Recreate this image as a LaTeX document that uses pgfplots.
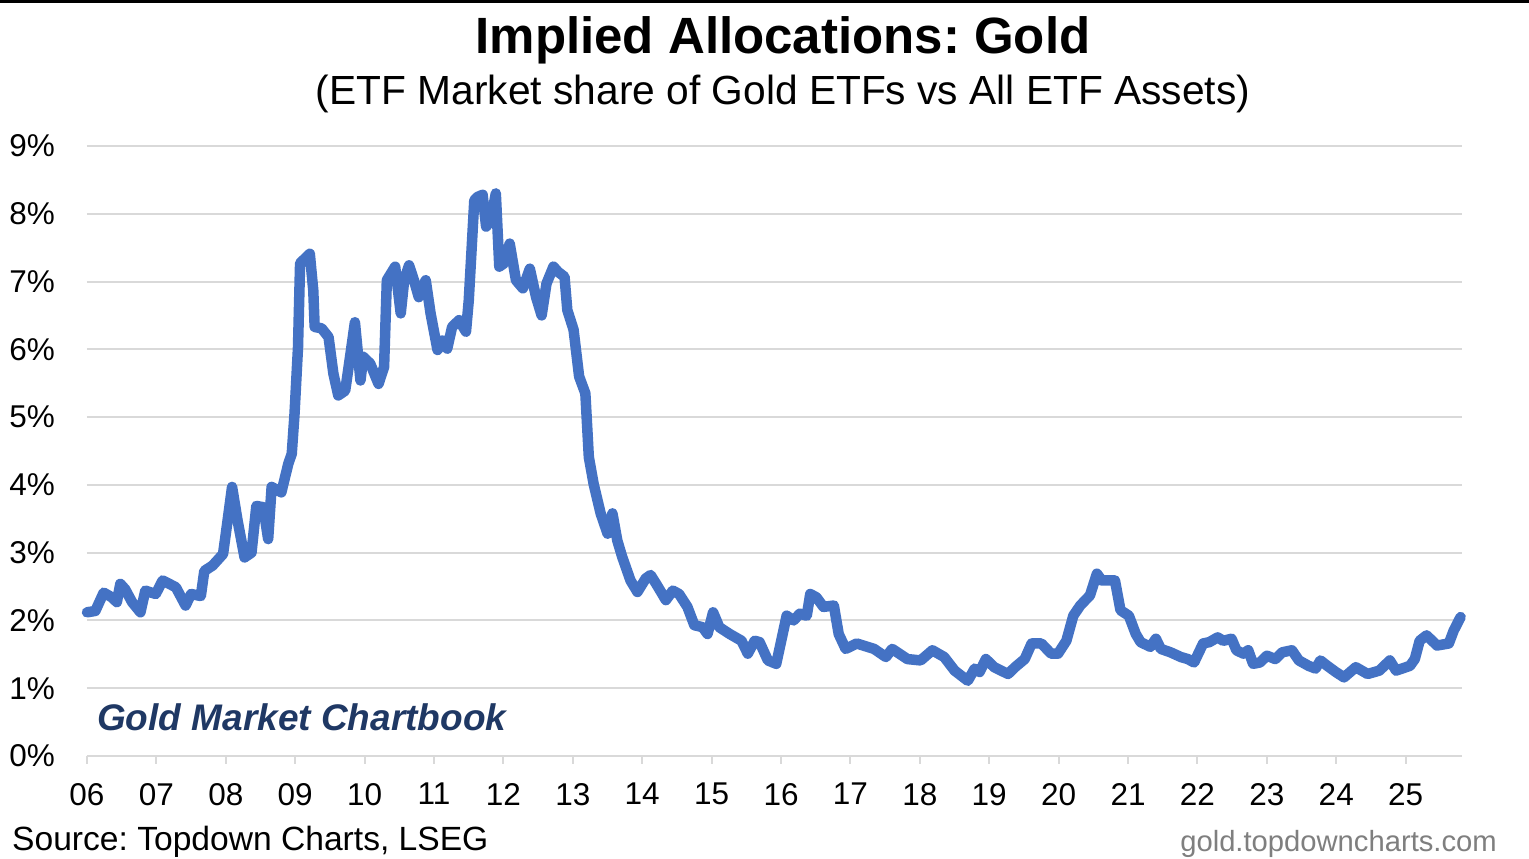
\documentclass[border=0pt]{standalone}
\usepackage{fontspec}
\setmainfont{Liberation Sans}
\usepackage{pgfplots}
\pgfplotsset{compat=1.18}
\frenchspacing
\definecolor{lineblue}{HTML}{4472C4}
\definecolor{gridgray}{HTML}{D9D9D9}
\definecolor{navy}{HTML}{1F3864}
\definecolor{urlgray}{HTML}{7F7F7F}
\pgfplotstableread{
x y
2006.00 2.12
2006.12 2.14
2006.24 2.41
2006.36 2.34
2006.43 2.27
2006.48 2.54
2006.55 2.46
2006.65 2.27
2006.77 2.12
2006.84 2.44
2006.99 2.39
2007.09 2.59
2007.28 2.49
2007.42 2.22
2007.50 2.39
2007.64 2.36
2007.69 2.73
2007.81 2.81
2007.96 2.98
2008.00 3.28
2008.09 3.97
2008.17 3.47
2008.27 2.93
2008.37 3.00
2008.44 3.69
2008.54 3.67
2008.61 3.20
2008.66 3.97
2008.80 3.89
2008.90 4.31
2008.95 4.46
2008.99 5.05
2009.04 6.03
2009.07 7.27
2009.14 7.34
2009.21 7.41
2009.26 6.87
2009.28 6.33
2009.38 6.31
2009.48 6.18
2009.55 5.64
2009.62 5.32
2009.72 5.39
2009.79 5.89
2009.86 6.40
2009.94 5.54
2009.98 5.89
2010.08 5.79
2010.20 5.49
2010.28 5.74
2010.32 7.02
2010.44 7.22
2010.52 6.53
2010.57 7.02
2010.64 7.24
2010.71 7.02
2010.78 6.77
2010.88 7.02
2010.95 6.53
2011.05 5.99
2011.12 6.13
2011.19 6.01
2011.26 6.33
2011.36 6.43
2011.46 6.26
2011.50 6.72
2011.58 8.20
2011.63 8.25
2011.70 8.28
2011.75 7.81
2011.82 7.91
2011.89 8.30
2011.94 7.22
2012.01 7.27
2012.09 7.56
2012.18 7.02
2012.28 6.90
2012.38 7.19
2012.47 6.77
2012.55 6.50
2012.62 6.97
2012.72 7.22
2012.79 7.14
2012.88 7.07
2012.92 6.58
2013.01 6.29
2013.09 5.60
2013.18 5.35
2013.23 4.41
2013.30 4.01
2013.40 3.58
2013.50 3.28
2013.57 3.58
2013.64 3.18
2013.71 2.94
2013.83 2.59
2013.93 2.42
2014.05 2.62
2014.12 2.67
2014.20 2.54
2014.34 2.30
2014.44 2.44
2014.53 2.39
2014.65 2.20
2014.75 1.93
2014.87 1.90
2014.94 1.80
2015.02 2.12
2015.11 1.90
2015.26 1.80
2015.43 1.70
2015.52 1.51
2015.62 1.70
2015.69 1.68
2015.81 1.41
2015.93 1.36
2016.08 2.07
2016.18 2.00
2016.27 2.10
2016.37 2.07
2016.42 2.39
2016.51 2.34
2016.61 2.20
2016.76 2.22
2016.83 1.80
2016.93 1.58
2017.09 1.66
2017.34 1.58
2017.51 1.46
2017.60 1.58
2017.82 1.43
2018.01 1.41
2018.18 1.56
2018.35 1.46
2018.50 1.26
2018.69 1.11
2018.79 1.29
2018.86 1.24
2018.95 1.43
2019.07 1.31
2019.27 1.21
2019.37 1.31
2019.51 1.43
2019.61 1.66
2019.75 1.66
2019.89 1.51
2019.99 1.51
2020.11 1.70
2020.21 2.07
2020.31 2.22
2020.45 2.37
2020.55 2.69
2020.62 2.59
2020.81 2.59
2020.89 2.15
2021.01 2.07
2021.11 1.80
2021.18 1.68
2021.32 1.61
2021.40 1.73
2021.47 1.58
2021.61 1.53
2021.76 1.46
2021.86 1.43
2021.95 1.38
2022.08 1.66
2022.17 1.68
2022.29 1.75
2022.37 1.70
2022.49 1.73
2022.56 1.56
2022.66 1.51
2022.73 1.56
2022.80 1.36
2022.90 1.38
2023.00 1.48
2023.12 1.43
2023.22 1.53
2023.36 1.56
2023.46 1.41
2023.60 1.33
2023.70 1.29
2023.77 1.41
2023.87 1.33
2023.99 1.24
2024.11 1.16
2024.28 1.31
2024.45 1.21
2024.62 1.26
2024.77 1.41
2024.86 1.26
2025.06 1.33
2025.13 1.43
2025.20 1.70
2025.30 1.78
2025.45 1.63
2025.62 1.66
2025.69 1.85
2025.79 2.05
}\golddata

\begin{document}
\begin{tikzpicture}[x=1pt,y=1pt]
\useasboundingbox (0,0) rectangle (1529,859);
\fill[white] (0,0) rectangle (1529,859);
\fill[black] (0,856) rectangle (1529,859);
\begin{axis}[
  at={(87pt,103pt)}, anchor=south west,
  scale only axis, width=1375pt, height=610pt,
  xmin=2006, xmax=2025.81, ymin=0, ymax=9,
  clip=false,
  axis line style={draw=none},
  ymajorgrids, grid style={gridgray, line width=2pt},
  xtick={2006,...,2025},
  xticklabels={06,07,08,09,10,11,12,13,14,15,16,17,18,19,20,21,22,23,24,25},
  ytick={0,...,9},
  yticklabels={0\%,1\%,2\%,3\%,4\%,5\%,6\%,7\%,8\%,9\%},
  tick pos=left, tick align=outside, major tick length=8pt,
  xtick style={gridgray, line width=2pt},
  ytick style={draw=none},
  /pgf/number format/assume math mode=true,
  tick label style={font=\fontsize{31.5}{38}\selectfont, text=black},
  yticklabel style={anchor=east, inner sep=0pt, xshift=-24pt},
  xticklabel style={anchor=north, inner sep=0pt, yshift=-19pt},
]
\addplot[lineblue, line width=10.5pt, line join=round, line cap=round] table[x=x,y=y] {\golddata};
\end{axis}
\node[anchor=base, font=\fontsize{51}{60}\selectfont\bfseries] at (783,805) {Implied Allocations: Gold};
\node[anchor=base, font=\fontsize{40.7}{48}\selectfont] at (783,754) {(ETF Market share of Gold ETFs vs All ETF Assets)};
\node[anchor=base west, inner sep=0pt, font=\fontsize{37}{44}\selectfont\bfseries\itshape, text=navy] at (97,128) {Gold Market Chartbook};
\node[anchor=base west, inner sep=0pt, font=\fontsize{33.6}{40}\selectfont] at (12,8) {Source: Topdown Charts, LSEG};
\node[anchor=base east, inner sep=0pt, font=\fontsize{29.2}{35}\selectfont, text=urlgray] at (1497,7) {gold.topdowncharts.com};
\end{tikzpicture}
\end{document}
